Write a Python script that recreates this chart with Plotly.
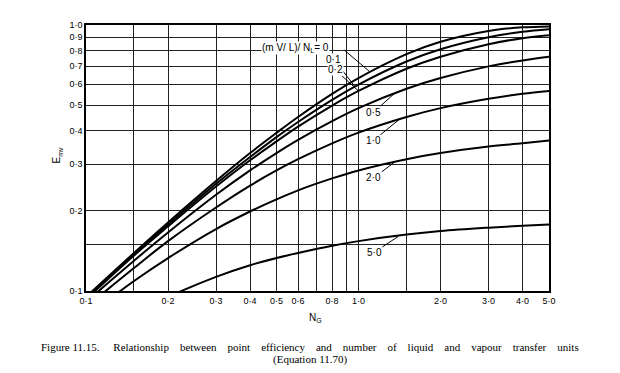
import math
import plotly.graph_objects as go

# ---- data ----
NG = [0.1, 0.15, 0.2, 0.3, 0.4, 0.5, 0.6, 0.8, 1.0, 1.5, 2.0, 3.0, 4.0, 5.0]
E_0 = [0.095, 0.139, 0.181, 0.259, 0.330, 0.393, 0.451, 0.551, 0.632, 0.777, 0.865, 0.950, 0.980, 0.988]
E_01 = [0.094, 0.137, 0.178, 0.253, 0.319, 0.379, 0.432, 0.523, 0.597, 0.729, 0.811, 0.900, 0.943, 0.964]
E_02 = [0.093, 0.136, 0.175, 0.247, 0.310, 0.365, 0.415, 0.498, 0.565, 0.685, 0.760, 0.847, 0.892, 0.915]
E_05 = [0.091, 0.130, 0.166, 0.230, 0.284, 0.330, 0.370, 0.435, 0.487, 0.576, 0.632, 0.699, 0.736, 0.760]
E_10 = [0.087, 0.122, 0.154, 0.206, 0.249, 0.284, 0.313, 0.359, 0.394, 0.451, 0.487, 0.528, 0.551, 0.565]
E_20 = [0.080, 0.109, 0.133, 0.171, 0.199, 0.221, 0.239, 0.265, 0.284, 0.313, 0.330, 0.349, 0.359, 0.368]
E_50 = [0.065, 0.082, 0.095, 0.113, 0.125, 0.133, 0.139, 0.148, 0.154, 0.163, 0.168, 0.173, 0.176, 0.178]

series = [E_0, E_01, E_02, E_05, E_10, E_20, E_50]

x_grid = [0.1, 0.15, 0.2, 0.3, 0.4, 0.5, 0.6, 0.7, 0.8, 0.9, 1.0, 1.5, 2.0, 3.0, 4.0, 5.0]
x_text = ["0·1", "", "0·2", "0·3", "0·4", "0·5", "0·6", "", "0·8", "", "1·0", "", "2·0", "3·0", "4·0", "5·0"]
y_grid = [0.1, 0.15, 0.2, 0.3, 0.4, 0.5, 0.6, 0.7, 0.8, 0.9, 1.0]
y_text = ["0·1", "", "0·2", "0·3", "0·4", "0·5", "0·6", "0·7", "0·8", "0·9", "1·0"]

fig = go.Figure()
for ys in series:
    fig.add_trace(go.Scatter(x=NG, y=ys, mode="lines",
                             line=dict(color="black", width=2, shape="spline", smoothing=1),
                             showlegend=False, hoverinfo="skip"))

tickfont = dict(family="Liberation Sans, Arial", size=9, color="black")
fig.update_xaxes(type="log", range=[-1, math.log10(5)], tickvals=x_grid, ticktext=x_text,
                 showgrid=True, gridcolor="#222", gridwidth=1, showline=True, mirror=True,
                 linecolor="black", linewidth=1.5, ticks="", tickfont=tickfont, zeroline=False)
fig.update_yaxes(type="log", range=[-1, 0], tickvals=y_grid, ticktext=y_text,
                 showgrid=True, gridcolor="#222", gridwidth=1, showline=True, mirror=True,
                 linecolor="black", linewidth=1.5, ticks="", tickfont=tickfont, zeroline=False)

L = math.log10
lab_font = dict(family="Liberation Sans, Arial", size=10, color="black")

# curve labels with leader lines: (text, tip NG, tip E, ax, ay)
labels = [
    ("0·1", 0.97, 0.587, -21, -27),
    ("0·2", 1.0, 0.565, -23, -21),
    ("0·5", 1.36, 0.555, -21, 19),
    ("1·0", 1.42, 0.444, -27, 22),
    ("2·0", 1.36, 0.306, -21, 16),
    ("5·0", 1.40, 0.1605, -24, 16),
]
for t, xn, ye, ax, ay in labels:
    fig.add_annotation(x=L(xn), y=L(ye), xref="x", yref="y", text=t, showarrow=True,
                       arrowhead=0, arrowwidth=1, arrowcolor="black", ax=ax, ay=ay,
                       font=lab_font, bgcolor="white", borderpad=0)


def paper_note(px, py, text, font, **kw):
    fig.add_annotation(x=(px - 86) / 463, y=(291.7 - py) / 268.4, xref="paper", yref="paper",
                       xanchor="center", yanchor="middle", text=text, showarrow=False,
                       font=font, **kw)


# main label
fig.add_annotation(x=L(1.1), y=L(0.667), xref="x", yref="y", text="", showarrow=True,
                   arrowhead=0, arrowwidth=1, arrowcolor="black", ax=-27, ay=-23)
paper_note(295, 47, "(m V/ L)/ N<sub>L</sub>= 0", lab_font, bgcolor="white", borderpad=0)

# axis titles
ax_font = dict(family="Liberation Sans, Arial", size=10, color="black")
paper_note(57, 155, "E<sub>mv</sub>", ax_font, textangle=-90)
paper_note(315, 319, "N<sub>G</sub>", ax_font)

# caption
cap_font = dict(family="Liberation Serif, Times New Roman", size=11, color="black")
gap = "\u00a0\u00a0\u00a0 "
words = ["Figure 11.15.\u00a0", "Relationship", "between", "point", "efficiency", "and", "number",
         "of", "liquid", "and", "vapour", "transfer", "units"]
paper_note(310, 348, gap.join(words), cap_font)
paper_note(310, 361, "(Equation 11.70)", cap_font)

# the page body adds an 8px offset, so margins are shifted by that amount
fig.update_layout(width=620, height=373, margin=dict(l=78, r=79, t=15, b=90),
                  paper_bgcolor="white", plot_bgcolor="white")
fig.write_html("out.html")
